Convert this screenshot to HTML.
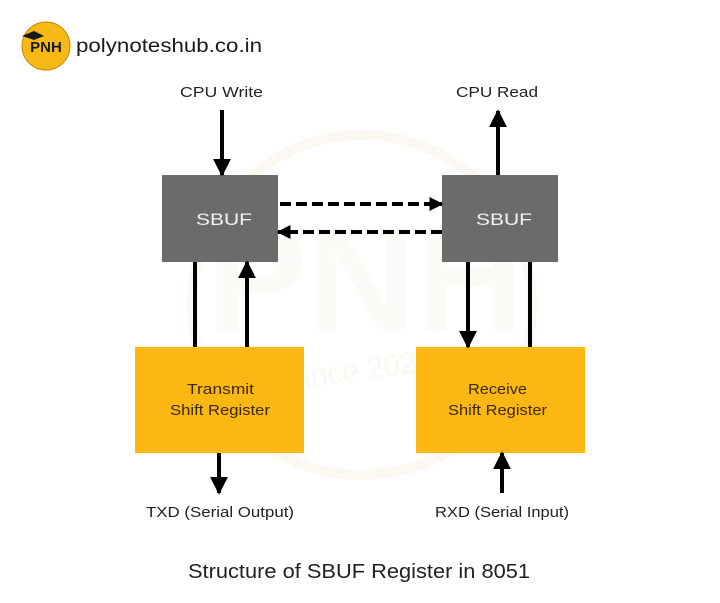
<!DOCTYPE html>
<html><head><meta charset="utf-8"><style>
html,body{margin:0;padding:0;background:#fff;}
svg{display:block;}
text{font-family:"Liberation Sans",sans-serif;}
</style></head><body>
<svg width="720" height="603" viewBox="0 0 720 603" xmlns="http://www.w3.org/2000/svg">
<defs>
<marker id="ah" viewBox="0 0 10 10" refX="9" refY="5" markerWidth="4.5" markerHeight="4.5" orient="auto" markerUnits="strokeWidth">
<path d="M0,0 L10,5 L0,10 z" fill="#000"/>
</marker>
<marker id="ahd" viewBox="0 0 10 10" refX="9" refY="5" markerWidth="3.5" markerHeight="3.5" orient="auto" markerUnits="strokeWidth">
<path d="M0,0 L10,5 L0,10 z" fill="#000"/>
</marker>
</defs>
<rect width="720" height="603" fill="#fff"/>
<!-- watermark -->
<circle cx="362" cy="305" r="170" fill="none" stroke="#fbf8f1" stroke-width="10"/>
<text x="365" y="330" font-size="150" font-weight="bold" fill="#fcfaf6" text-anchor="middle">PNH</text>
<text x="360" y="380" font-size="30" fill="#fbf8f1" text-anchor="middle" transform="rotate(-8 360 380)">Since 2022</text>
<!-- logo -->
<circle cx="46" cy="46" r="24" fill="#f7b916" stroke="#c48a00" stroke-width="1"/>
<text x="46" y="52" font-size="15" font-weight="bold" fill="#1a1a1a" text-anchor="middle">PNH</text>
<path d="M22,36 L34,31 L44,36 L34,40 z" fill="#1a1a1a"/>
<text x="76" y="52" font-size="19" fill="#1a1a1a" textLength="186" lengthAdjust="spacingAndGlyphs">polynoteshub.co.in</text>
<!-- top labels -->
<text x="180" y="97" font-size="15" fill="#222" textLength="83" lengthAdjust="spacingAndGlyphs">CPU Write</text>
<text x="456" y="97" font-size="15" fill="#222" textLength="82" lengthAdjust="spacingAndGlyphs">CPU Read</text>
<!-- SBUF boxes -->
<rect x="162" y="175" width="116" height="87" fill="#6b6b6c"/>
<rect x="442" y="175" width="116" height="87" fill="#6b6b6c"/>
<text x="196" y="225" font-size="17" fill="#f2f2f2" textLength="56" lengthAdjust="spacingAndGlyphs">SBUF</text>
<text x="476" y="225" font-size="17" fill="#f2f2f2" textLength="56" lengthAdjust="spacingAndGlyphs">SBUF</text>
<!-- yellow boxes -->
<rect x="135" y="347" width="169" height="106" fill="#fcb712"/>
<rect x="416" y="347" width="169" height="106" fill="#fcb712"/>
<text x="187" y="394" font-size="15" fill="#3a2a05" textLength="67" lengthAdjust="spacingAndGlyphs">Transmit</text>
<text x="170" y="415" font-size="15" fill="#3a2a05" textLength="100" lengthAdjust="spacingAndGlyphs">Shift Register</text>
<text x="468" y="394" font-size="15" fill="#3a2a05" textLength="59" lengthAdjust="spacingAndGlyphs">Receive</text>
<text x="448" y="415" font-size="15" fill="#3a2a05" textLength="99" lengthAdjust="spacingAndGlyphs">Shift Register</text>
<!-- arrows -->
<g stroke="#000" stroke-width="4" fill="none">
<line x1="222" y1="110" x2="222" y2="175" marker-end="url(#ah)"/>
<line x1="498" y1="175" x2="498" y2="111" marker-end="url(#ah)"/>
<line x1="195" y1="262" x2="195" y2="347"/>
<line x1="247" y1="347" x2="247" y2="262" marker-end="url(#ah)"/>
<line x1="468" y1="262" x2="468" y2="347" marker-end="url(#ah)"/>
<line x1="530" y1="262" x2="530" y2="347"/>
<line x1="219" y1="453" x2="219" y2="493" marker-end="url(#ah)"/>
<line x1="502" y1="493" x2="502" y2="453" marker-end="url(#ah)"/>
<line x1="280" y1="204" x2="442" y2="204" stroke-dasharray="11,5" marker-end="url(#ahd)"/>
<line x1="442" y1="232" x2="278" y2="232" stroke-dasharray="11,5" marker-end="url(#ahd)"/>
</g>
<!-- bottom labels -->
<text x="146" y="517" font-size="15" fill="#222" textLength="148" lengthAdjust="spacingAndGlyphs">TXD (Serial Output)</text>
<text x="435" y="517" font-size="15" fill="#222" textLength="134" lengthAdjust="spacingAndGlyphs">RXD (Serial Input)</text>
<text x="188" y="578" font-size="20" fill="#222" textLength="342" lengthAdjust="spacingAndGlyphs">Structure of SBUF Register in 8051</text>
</svg>
</body></html>
